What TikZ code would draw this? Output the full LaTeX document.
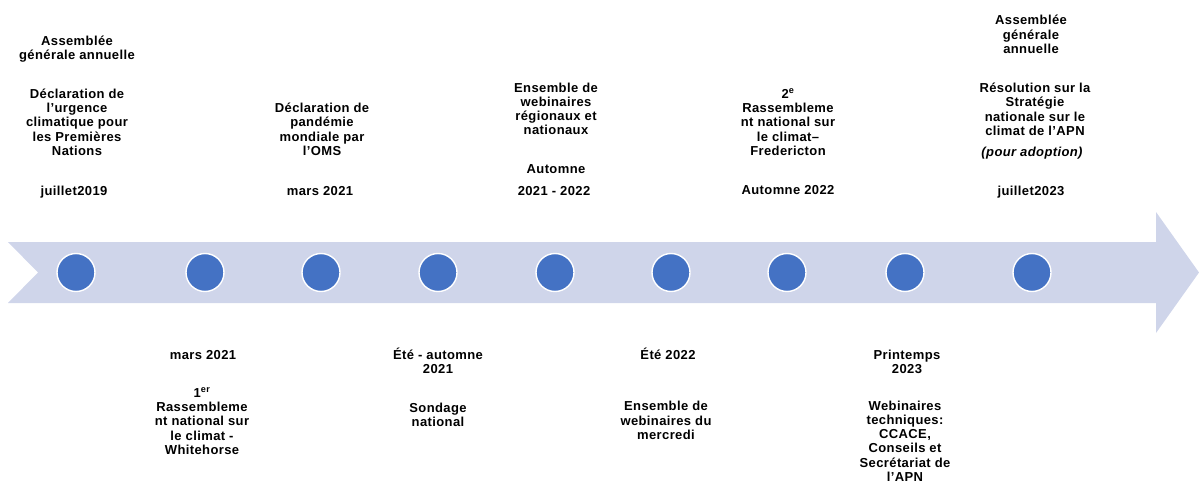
\documentclass[tikz,border=0pt]{standalone}
\usepackage{fontspec}
\setmainfont{Liberation Sans}[LetterSpace=3]
\definecolor{bandblue}{HTML}{CFD5EA}
\definecolor{dotblue}{HTML}{4472C4}
\tikzset{
  dot/.style={circle,fill=dotblue,draw=white,line width=1.4pt,minimum size=38pt,inner sep=0pt},
  lbl/.style={align=center,anchor=base,inner sep=0pt,font=\fontsize{13}{14.3}\selectfont\bfseries}
}
\begin{document}
\begin{tikzpicture}[x=1pt,y=-1pt]
            \useasboundingbox (0,0) rectangle (1199,484);
            % the arrow
            \fill[bandblue] (8,242) -- (1156,242) -- (1156,212) -- (1199,272.5) -- (1156,333) -- (1156,303) -- (8,303) -- (38,272.5) -- cycle;
            \foreach \x [count=\i] in {76,205,321,438,555,671,787,905,1032}
                \node[dot] (c\i) at (\x,272.5) {};
            % above the arrow (y = baseline of the last line)
            \node[lbl] (agaA) at (77,59.5) {Assemblée\\générale annuelle};
            \node[lbl] (urgence) at (77,155.5) {Déclaration de\\l’urgence\\climatique pour\\les Premières\\Nations};
            \node[lbl] (dateA) at (74,195.5) {juillet2019};
            \node[lbl] (oms) at (322,155.5) {Déclaration de\\pandémie\\mondiale par\\l’OMS};
            \node[lbl] (dateB) at (320,195.5) {mars 2021};
            \node[lbl] (regio) at (556,135) {Ensemble de\\webinaires\\régionaux et\\nationaux};
            \node[lbl] (autom) at (556,173.5) {Automne};
            \node[lbl] (dateC) at (554,195.5) {2021 - 2022};
            \node[lbl] (fred) at (788,155.5) {2\textsuperscript{e}\\Rassembleme\\nt national sur\\le climat–\\Fredericton};
            \node[lbl] (dateD) at (788,194.5) {Automne 2022};
            \node[lbl] (agaB) at (1031,53.5) {Assemblée\\générale\\annuelle};
            \node[lbl] (strat) at (1035,135.5) {Résolution sur la\\Stratégie\\nationale sur le\\climat de l’APN};
            \node[lbl] (adopt) at (1032,156.5) {\itshape (pour adoption)};
            \node[lbl] (dateE) at (1031,195.5) {juillet2023};
            % below the arrow
            \node[lbl] (dateF) at (203,359.5) {mars 2021};
            \node[lbl] (white) at (202,454.5) {1\textsuperscript{er}\\Rassembleme\\nt national sur\\le climat -\\Whitehorse};
            \node[lbl] (dateG) at (438,373.5) {Été - automne\\2021};
            \node[lbl] (sond) at (438,426.5) {Sondage\\national};
            \node[lbl] (dateH) at (668,359.5) {Été 2022};
            \node[lbl] (merc) at (666,439.5) {Ensemble de\\webinaires du\\mercredi};
            \node[lbl] (dateI) at (907,373.5) {Printemps\\2023};
            \node[lbl] (tech) at (905,481.5) {Webinaires\\techniques:\\CCACE,\\Conseils et\\Secrétariat de\\l’APN};
\end{tikzpicture}
\end{document}
